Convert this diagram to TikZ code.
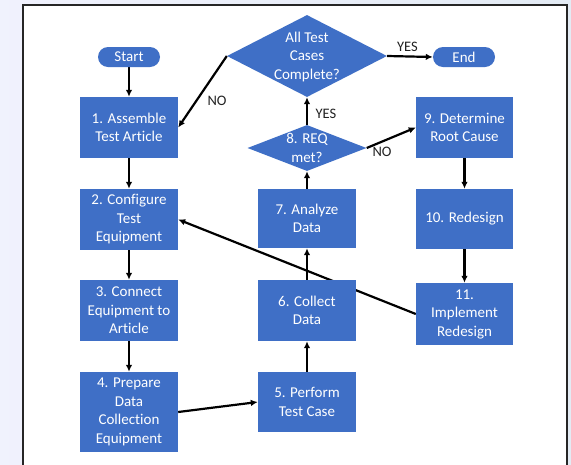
\documentclass[tikz,border=0pt]{standalone}
\usepackage{fontspec}
\setmainfont{Carlito}[Ligatures=NoCommon]
\usetikzlibrary{shapes.geometric,arrows.meta}
\definecolor{boxblue}{HTML}{3F6FC6}
\definecolor{outerbg}{HTML}{E3EBF4}
\definecolor{tagtext}{HTML}{222222}
\pgfdeclarelayer{panel}
\pgfdeclarelayer{wires}
\pgfsetlayers{panel,wires,main}
\begin{document}
\begin{tikzpicture}[x=1pt,y=-1pt,
  flow/.style={draw=none,fill=boxblue,text=white,
    font=\fontsize{15}{18.5}\selectfont,align=center,inner sep=0pt},
  stepbox/.style={flow,rectangle,minimum width=98pt,minimum height=61pt},
  terminal/.style={flow,rectangle,rounded corners=10pt,
    minimum width=62pt,minimum height=20pt},
  decision/.style={flow,diamond},
  plain/.style={text=white,font=\fontsize{15}{18.5}\selectfont,
    align=center,inner sep=0pt},
  conn/.style={line width=2.2pt,-{Latex[length=7pt,width=6.5pt]}},
  tag/.style={font=\fontsize{14.5}{17}\selectfont,text=tagtext,inner sep=0pt}]

\useasboundingbox (0,0) rectangle (571,464);

% page backdrop and white panel
\begin{pgfonlayer}{panel}
  \fill[left color=outerbg!80!blue!20!white,right color=outerbg] (0,0) rectangle (571,464);
  \draw[fill=white,line width=1.4pt,draw=black!85] (23,5) rectangle (567,475);
\end{pgfonlayer}

% left column
\node[terminal] (start) at (129,57) {Start};
\node[stepbox] (b1) at (129,127.5) {1. Assemble\\Test Article};
\node[stepbox] (b2) at (129,219.5) {2. Configure\\Test\\Equipment};
\node[stepbox] (b3) at (129,310.5) {3. Connect\\Equipment to\\Article};
\node[stepbox,minimum height=80pt] (b4) at (129,412) {4. Prepare\\Data\\Collection\\Equipment};

% middle column
\node[stepbox,minimum height=60pt] (b5) at (307,402) {5. Perform\\Test Case};
\node[stepbox] (b6) at (307,310.5) {6. Collect\\Data};
\node[stepbox,minimum height=59pt] (b7) at (307,218.5) {7. Analyze\\Data};
\node[decision,minimum width=119pt,minimum height=46pt] (d8) at (307,148) {};
\node[plain] (d8text) at (307,148) {8. REQ\\met?};
\node[decision,minimum width=160pt,minimum height=82pt] (dall) at (307,56) {};
\node[plain] (dalltext) at (307,56.5) {All Test\\Cases\\Complete?};

% right column
\node[terminal] (end) at (464,57) {End};
\node[stepbox,minimum width=97pt] (b9) at (464.5,127.5) {9. Determine\\Root Cause};
\node[stepbox,minimum width=97pt,minimum height=60pt] (b10) at (464.5,219) {10. Redesign};
\node[stepbox,minimum width=97pt,minimum height=62pt] (b11) at (464.5,314) {11.\\Implement\\Redesign};

% connectors
\begin{pgfonlayer}{wires}
  \draw[conn] (start) -- (b1);
  \draw[conn] (b1) -- (b2);
  \draw[conn] (b2) -- (b3);
  \draw[conn] (b3) -- (b4);
  \draw[conn] (b4.east) -- (b5.west);
  \draw[conn] (b5) -- (b6);
  \draw[conn] (b6) -- (b7);
  \draw[conn] (b7) -- (d8.south);
  \draw[conn] (d8.north) -- (dall.south);
  \draw[conn] (dall.east) -- (end.west);
  \draw[conn] (dall.west) -- (b1.east);
  \draw[conn] (d8.east) -- (b9.west);
  \draw[conn] (b9) -- (b10);
  \draw[conn] (b10) -- (b11);
  \draw[conn] (b11.west) -- (b2.east);
\end{pgfonlayer}

% branch labels
\node[tag] (noall) at (217,101) {NO};
\node[tag] (yesall) at (407.5,47) {YES};
\node[tag] (yes8) at (326,114) {YES};
\node[tag] (no8) at (382,152) {NO};
\end{tikzpicture}
\end{document}
